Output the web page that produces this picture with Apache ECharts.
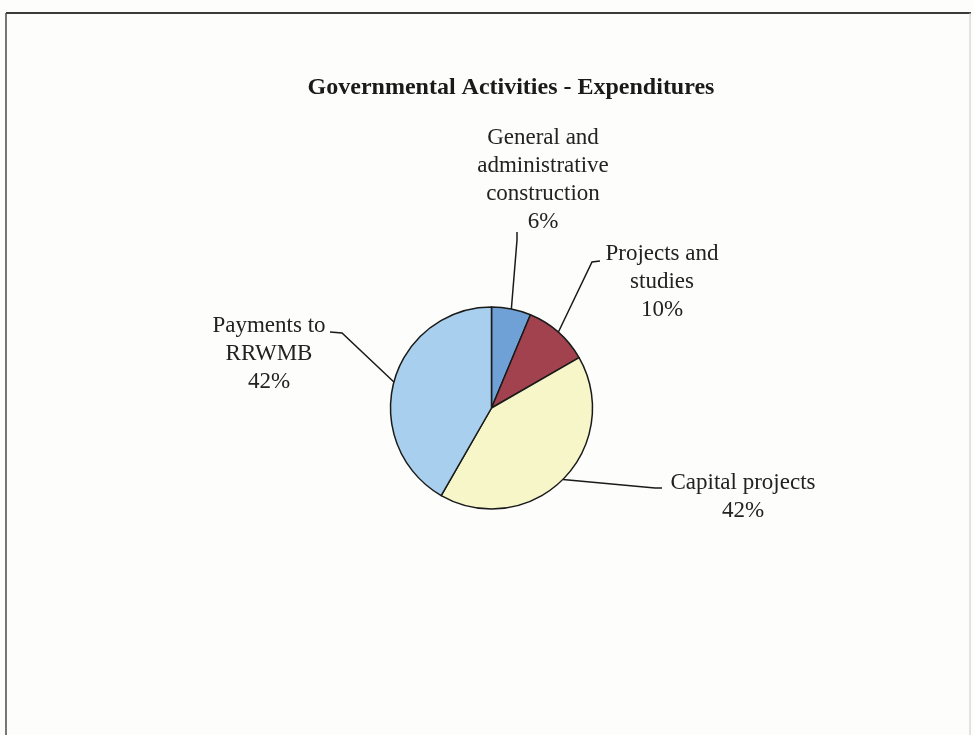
<!DOCTYPE html>
<html>
<head>
<meta charset="utf-8">
<script src="https://cdn.jsdelivr.net/npm/echarts@6/dist/echarts.min.js"></script>
<style>
  html, body { margin: 0; padding: 0; background: #fdfdfb; }
  #chart { width: 973px; height: 735px; }
</style>
</head>
<body>
<div id="chart"></div>
<script>
// ---- data ----
const chartTitle = 'Governmental Activities - Expenditures';
const categories = [
  'General and\nadministrative\nconstruction',
  'Projects and\nstudies',
  'Capital projects',
  'Payments to\nRRWMB'
];
const shares = [6.3, 10.4, 41.6, 41.7];   // percent of expenditures (labels round to 6/10/42/42)
const sliceColors = ['#6fa1d6', '#a3424f', '#f6f6c9', '#a8d0ee'];

// ---- label placement (text block centres and leader line bends) ----
const labelCenters = [[543, 180], [662, 282], [743, 497], [269, 354]];
const leaderBends = [[[517, 240], [517, 232]], [[592, 262], [600, 261]], [[655, 488], [662, 488]], [[342, 333], [330, 332]]];

const chart = echarts.init(document.getElementById('chart'), null, { renderer: 'canvas' });

const data = categories.map((c, i) => ({
  name: c,
  value: shares[i],
  itemStyle: { color: sliceColors[i] }
}));

chart.setOption({
  backgroundColor: '#fdfdfb',
  animation: false,
  graphic: [
    { type: 'line', shape: { x1: 6, y1: 13, x2: 971, y2: 13 }, style: { stroke: '#3a3a3a', lineWidth: 2 } },
    { type: 'line', shape: { x1: 6, y1: 13, x2: 6, y2: 735 }, style: { stroke: '#4a4a4a', lineWidth: 1.5 } },
    { type: 'line', shape: { x1: 970, y1: 13, x2: 970, y2: 735 }, style: { stroke: '#c8c8c8', lineWidth: 1 } },
    {
      type: 'text', x: 511, y: 88,
      style: {
        text: chartTitle,
        font: 'bold 24px "Liberation Serif"',
        fill: '#1a1a1a',
        textAlign: 'center',
        textVerticalAlign: 'middle'
      }
    }
  ],
  series: [{
    type: 'pie',
    center: [491.5, 408],
    radius: 101,
    startAngle: 90,
    clockwise: true,
    avoidLabelOverlap: false,
    data: data,
    itemStyle: { borderColor: '#1a1a1a', borderWidth: 1.5 },
    emphasis: { disabled: true },
    label: {
      show: true,
      position: 'outside',
      formatter: function (p) { return p.name + '\n' + Math.round(p.percent) + '%'; },
      fontFamily: 'Liberation Serif',
      fontSize: 23,
      lineHeight: 28,
      color: '#222'
    },
    labelLine: {
      show: true,
      length: 20,
      length2: 10,
      lineStyle: { color: '#1a1a1a', width: 1.5 }
    },
    labelLayout: function (params) {
      const i = params.dataIndex;
      const start = params.labelLinePoints ? params.labelLinePoints[0] : null;
      const out = {
        x: labelCenters[i][0],
        y: labelCenters[i][1],
        align: 'center',
        verticalAlign: 'middle'
      };
      if (start) {
        out.labelLinePoints = [start, leaderBends[i][0], leaderBends[i][1]];
      }
      return out;
    }
  }]
});
</script>
</body>
</html>
